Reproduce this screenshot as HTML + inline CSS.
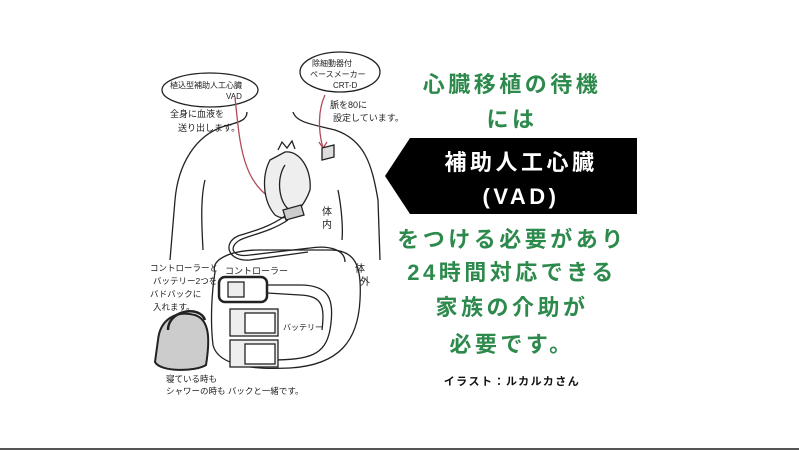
<!DOCTYPE html>
<html><head><meta charset="utf-8"><style>
html,body{margin:0;padding:0;background:#fff}
body{width:799px;height:450px;position:relative;overflow:hidden;font-family:"Liberation Sans","Noto Sans CJK JP",sans-serif}
.g{position:absolute;left:385px;width:254px;text-align:center;color:#2d8a4c;font-weight:bold;font-size:22px;letter-spacing:3.5px;line-height:30px}
.w{position:absolute;left:405px;width:232px;text-align:center;color:#fff;font-weight:bold;font-size:22px;letter-spacing:3.5px;line-height:30px}
.s{font-family:"Liberation Sans","Noto Sans CJK JP",sans-serif;fill:#222}
</style></head><body>
<svg width="799" height="450" style="position:absolute;left:0;top:0" fill="none" stroke="#222" stroke-width="1.3">
<polygon points="385,176 410,138 637,138 637,214 410,214" fill="#000" stroke="none"/>
<path d="M247,112 C247,120 240,122 225,126 C195,135 178,165 175,200 L170,260"/>
<path d="M293,112 C296,122 310,124 335,130 C365,140 372,165 378,200 L380,260"/>
<path d="M205,180 C200,200 202,230 203,250"/>
<path d="M338,190 C342,210 343,230 342,240"/>
<ellipse cx="210" cy="90" rx="48" ry="17"/>
<ellipse cx="340" cy="72" rx="40" ry="20"/>
<text class="s" x="170" y="88" font-size="8" stroke="none" fill="#222">植込型補助人工心臓</text>
<text class="s" x="226" y="99" font-size="8" stroke="none" fill="#222">VAD</text>
<text class="s" x="170" y="117" font-size="9" stroke="none" fill="#222">全身に血液を</text>
<text class="s" x="178" y="131" font-size="9" stroke="none" fill="#222">送り出します。</text>
<text class="s" x="312" y="66" font-size="8" stroke="none" fill="#222">除細動器付</text>
<text class="s" x="310" y="77" font-size="8" stroke="none" fill="#222">ペースメーカー</text>
<text class="s" x="333" y="88" font-size="8" stroke="none" fill="#222">CRT-D</text>
<text class="s" x="330" y="108" font-size="9" stroke="none" fill="#222">脈を80に</text>
<text class="s" x="333" y="121" font-size="9" stroke="none" fill="#222">設定しています。</text>
<path d="M235,98 C240,140 240,190 285,205" stroke="#b04a5a"/>
<path d="M285,205 l-6,-5 M285,205 l-7,2" stroke="#b04a5a"/>
<path d="M325,95 C318,110 318,130 323,148" stroke="#b04a5a"/>
<path d="M323,148 l-4,-6 M323,148 l4,-6" stroke="#b04a5a"/>
<path d="M270,160 C262,175 262,200 275,215 C290,225 305,205 310,190 C312,170 300,150 285,152 Z" fill="#eee"/>
<path d="M278,150 l4,-8 l5,6 l5,-7 l3,8"/>
<path d="M285,165 C275,180 280,205 290,210"/>
<path d="M322,148 l12,-3 l0,12 l-12,3 Z" fill="#ddd"/>
<path d="M283,210 l18,-5 l3,10 l-18,5 Z" fill="#ccc"/>
<path d="M288,220 C270,232 250,235 240,240 C228,247 232,258 250,255 L310,248 C330,245 345,250 345,262"/>
<path d="M285,216 C268,228 250,232 238,236 C222,243 228,262 250,260 L308,252"/>
<text class="s" x="322" y="215" font-size="10" stroke="none" fill="#222">体</text>
<text class="s" x="322" y="228" font-size="10" stroke="none" fill="#222">内</text>
<path d="M215,272 C210,260 230,250 260,250 L330,250 C355,250 362,265 360,300 C358,340 340,365 290,368 C250,370 218,365 213,345 C210,320 212,290 215,272 Z"/>
<text class="s" x="355" y="272" font-size="10" stroke="none" fill="#222">体</text>
<text class="s" x="360" y="285" font-size="10" stroke="none" fill="#222">外</text>
<text class="s" x="225" y="274" font-size="9" stroke="none" fill="#222">コントローラー</text>
<rect x="219" y="277" width="48" height="25" rx="6" stroke-width="2.5"/>
<rect x="228" y="282" width="16" height="15" fill="#eee"/>
<path d="M267,285 L300,285 C330,285 335,300 330,330 C325,355 310,360 270,360"/>
<path d="M267,293 L300,295 C322,296 325,305 322,330"/>
<rect x="230" y="309" width="48" height="27" fill="#eee"/>
<rect x="245" y="313" width="30" height="20" fill="#fff"/>
<rect x="230" y="340" width="48" height="27" fill="#eee"/>
<rect x="245" y="344" width="30" height="20" fill="#fff"/>
<text class="s" x="283" y="330" font-size="8" stroke="none" fill="#222">バッテリー</text>
<path d="M158,340 C160,320 175,310 195,315 C210,320 210,340 206,365 C195,372 160,372 155,362 Z" fill="#ccc" stroke-width="2"/>
<path d="M168,330 C168,310 200,305 205,320" stroke-width="2.5"/>
<text class="s" x="150" y="271" font-size="8.5" stroke="none" fill="#222">コントローラーと</text>
<text class="s" x="153" y="284" font-size="8.5" stroke="none" fill="#222">バッテリー2つを</text>
<text class="s" x="150" y="297" font-size="8.5" stroke="none" fill="#222">バドバックに</text>
<text class="s" x="153" y="310" font-size="8.5" stroke="none" fill="#222">入れます。</text>
<text class="s" x="166" y="382" font-size="8.5" stroke="none" fill="#222">寝ている時も</text>
<text class="s" x="166" y="394" font-size="8.5" stroke="none" fill="#222">シャワーの時も バックと一緒です。</text>
<line x1="0" y1="449" x2="799" y2="449" stroke="#555" stroke-width="2"/>
</svg>
<div class="g" style="top:70px">心臓移植の待機</div>
<div class="g" style="top:105px">には</div>
<div class="w" style="top:148px">補助人工心臓</div>
<div class="w" style="top:182px">(VAD)</div>
<div class="g" style="top:225px">をつける必要があり</div>
<div class="g" style="top:258px">24時間対応できる</div>
<div class="g" style="top:293px">家族の介助が</div>
<div class="g" style="top:330px">必要です。</div>
<div style="position:absolute;left:385px;width:254px;top:373px;text-align:center;font-size:11px;font-weight:bold;letter-spacing:1.5px;color:#111">イラスト：ルカルカさん</div>
</body></html>
